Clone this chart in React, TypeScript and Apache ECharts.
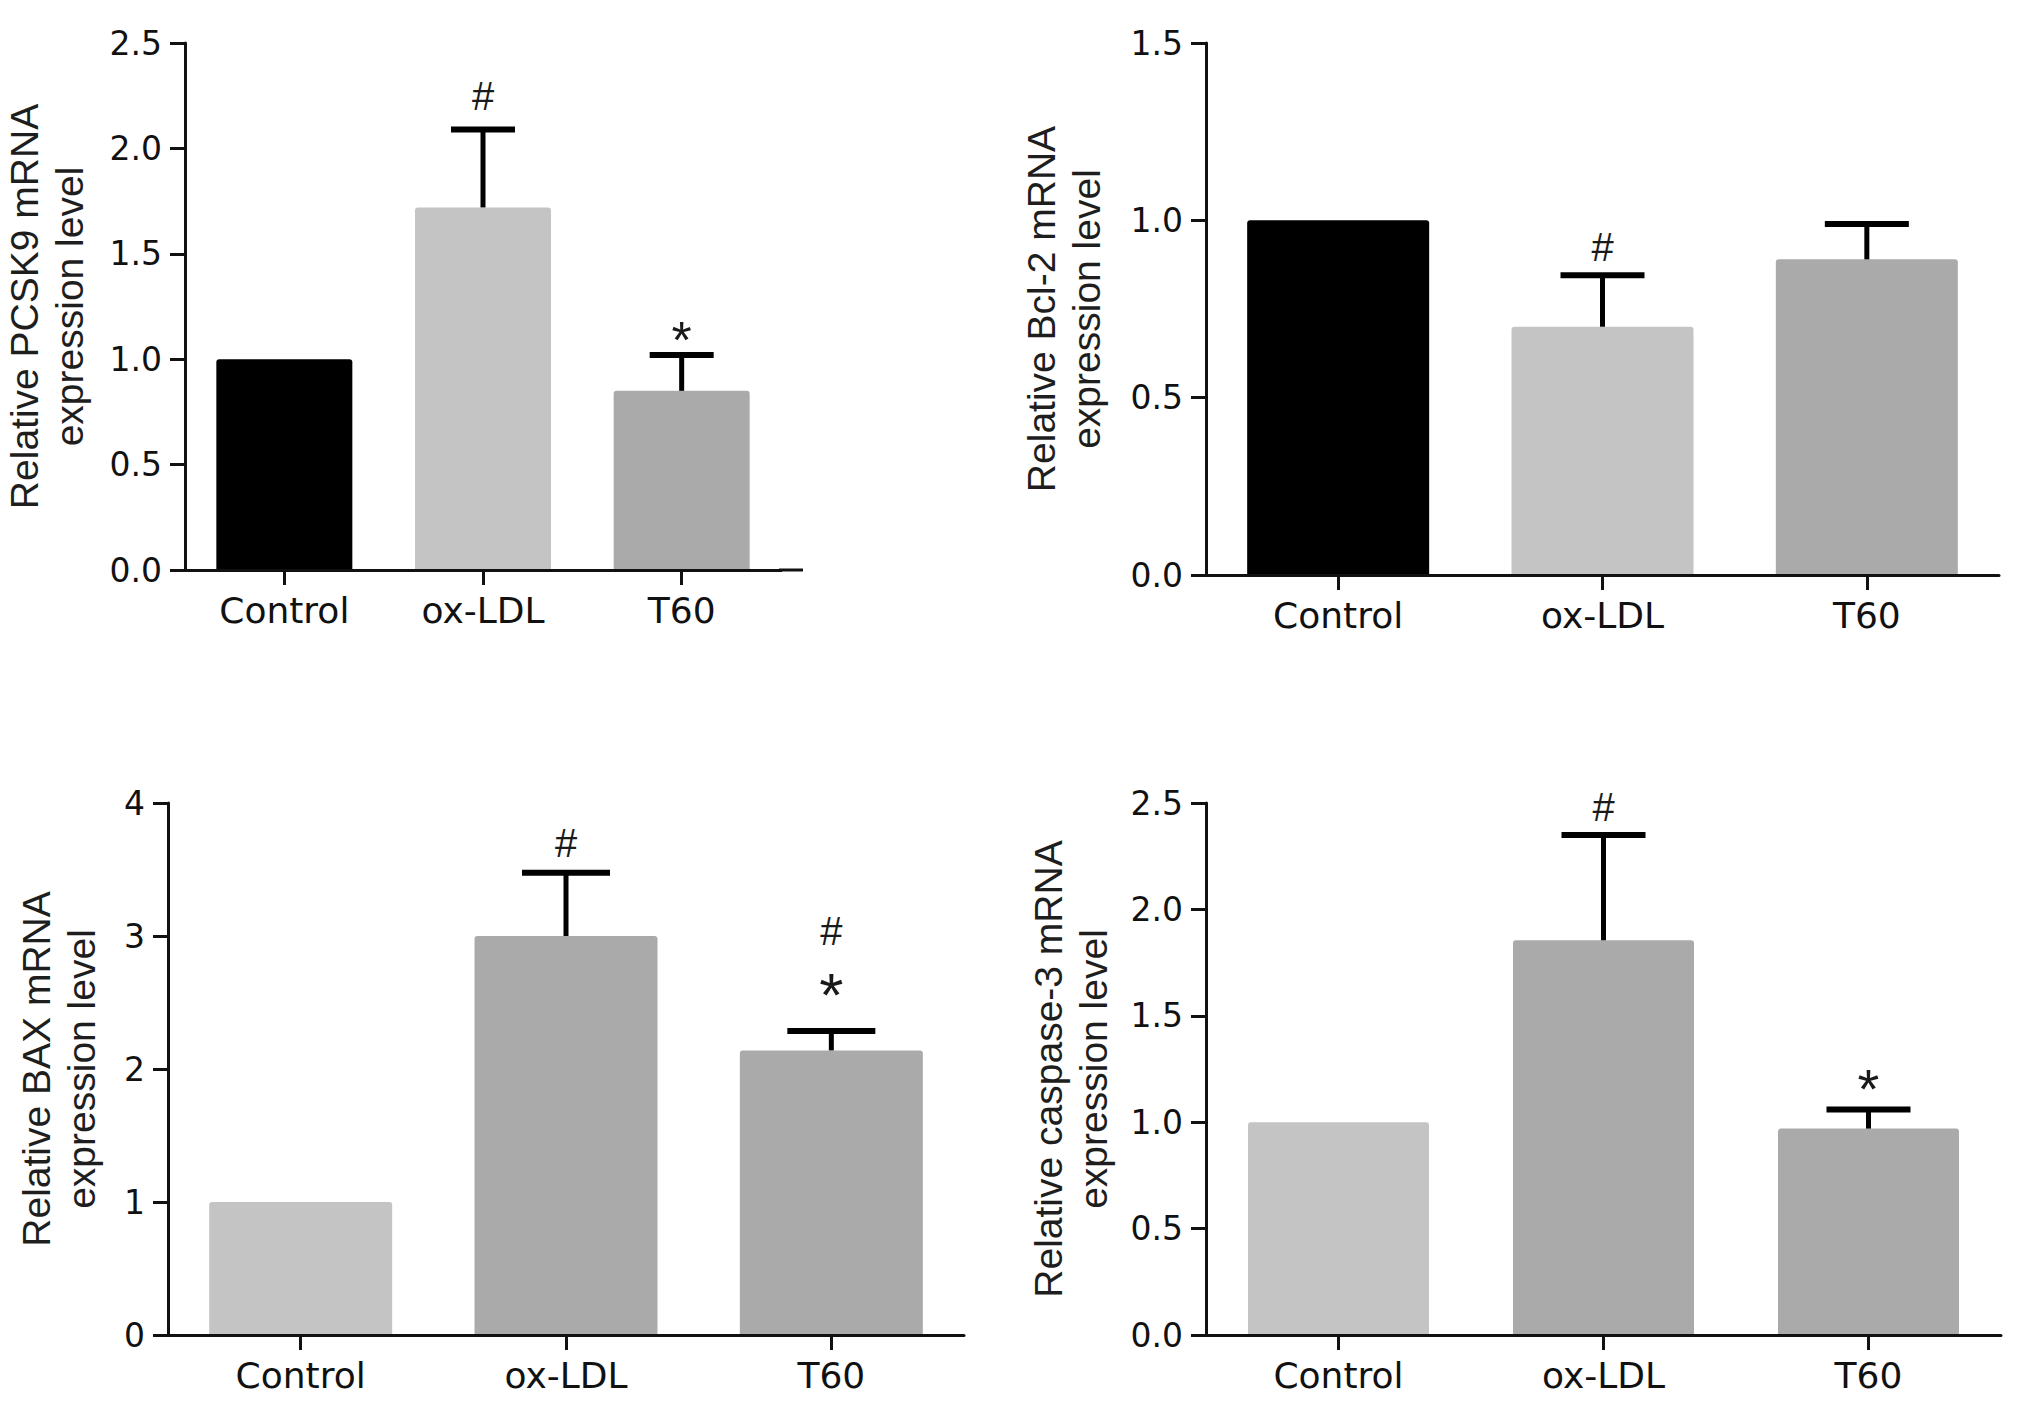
import React, { useEffect, useRef } from 'react';
import * as echarts from 'echarts';

// ---------- data ----------
const categories = ['Control', 'ox-LDL', 'T60'];

const pcsk9Means = [1.0, 1.72, 0.85];
const pcsk9Errors = [0, 0.37, 0.17];
const pcsk9MarkCats = [1, 2];
const pcsk9MarkValues = [2.25, 1.14];
const pcsk9MarkTexts = ['#', '*'];

const bcl2Means = [1.0, 0.70, 0.89];
const bcl2Errors = [0, 0.145, 0.10];
const bcl2MarkCats = [1];
const bcl2MarkValues = [0.925];
const bcl2MarkTexts = ['#'];

const baxMeans = [1.0, 3.0, 2.14];
const baxErrors = [0, 0.475, 0.145];
const baxMarkCats = [1, 2, 2];
const baxMarkValues = [3.70, 3.04, 2.65];
const baxMarkTexts = ['#', '#', '*'];

const casp3Means = [1.0, 1.855, 0.97];
const casp3Errors = [0, 0.495, 0.09];
const casp3MarkCats = [1, 2];
const casp3MarkValues = [2.48, 1.21];
const casp3MarkTexts = ['#', '*'];

const yTitles = [
  'Relative PCSK9 mRNA\nexpression level',
  'Relative Bcl-2 mRNA\nexpression level',
  'Relative BAX mRNA\nexpression level',
  'Relative caspase-3 mRNA\nexpression level',
];
const yMins = [0, 0, 0, 0];
const yMaxs = [2.5, 1.5, 4, 2.5];
const yIntervals = [0.5, 0.5, 1, 0.5];
const yDecimals = [1, 1, 0, 1];

// ---------- styles / layout ----------
const BLACK = '#000000';
const LIGHT = '#c4c4c4';
const MID = '#aaaaaa';
const FONT = 'Liberation Sans, Arial, sans-serif';
const LABEL_FONT = 'DejaVu Sans, Liberation Sans, sans-serif';

const panels = [
  { left: 185, top: 43, width: 596, height: 527, barWidth: 136, capHalf: 32, nameGap: 93, colors: [BLACK, LIGHT, MID],
    means: pcsk9Means, errors: pcsk9Errors, markCats: pcsk9MarkCats, markValues: pcsk9MarkValues, markTexts: pcsk9MarkTexts, starSize: 52 },
  { left: 1206, top: 43, width: 793, height: 532, barWidth: 182, capHalf: 42, nameGap: 97, colors: [BLACK, LIGHT, MID],
    means: bcl2Means, errors: bcl2Errors, markCats: bcl2MarkCats, markValues: bcl2MarkValues, markTexts: bcl2MarkTexts, starSize: 52 },
  { left: 168, top: 803, width: 796, height: 532, barWidth: 183, capHalf: 44, nameGap: 64, colors: [LIGHT, MID, MID],
    means: baxMeans, errors: baxErrors, markCats: baxMarkCats, markValues: baxMarkValues, markTexts: baxMarkTexts, starSize: 62 },
  { left: 1206, top: 803, width: 795, height: 532, barWidth: 181, capHalf: 42, nameGap: 90, colors: [LIGHT, MID, MID],
    means: casp3Means, errors: casp3Errors, markCats: casp3MarkCats, markValues: casp3MarkValues, markTexts: casp3MarkTexts, starSize: 56 },
];

function buildOption() {
  const grid: any[] = [];
  const xAxis: any[] = [];
  const yAxis: any[] = [];
  const series: any[] = [];

  panels.forEach((p, i) => {
    grid.push({ left: p.left, top: p.top, width: p.width, height: p.height, containLabel: false });
    xAxis.push({
      type: 'category',
      gridIndex: i,
      data: categories,
      boundaryGap: true,
      axisLine: { show: true, lineStyle: { color: '#111', width: 3 } },
      axisTick: { show: true, alignWithLabel: true, length: 15, lineStyle: { color: '#111', width: 3 } },
      axisLabel: { color: '#111', fontSize: 36, fontFamily: LABEL_FONT, margin: 22 },
      splitLine: { show: false },
      z: 5,
    });
    yAxis.push({
      type: 'value',
      gridIndex: i,
      min: yMins[i],
      max: yMaxs[i],
      interval: yIntervals[i],
      name: yTitles[i],
      nameLocation: 'middle',
      nameRotate: 90,
      nameGap: p.nameGap,
      nameTextStyle: { color: '#1e1e1e', fontSize: 39, fontFamily: FONT, lineHeight: 45 },
      axisLine: { show: true, lineStyle: { color: '#111', width: 3 } },
      axisTick: { show: true, length: 15, lineStyle: { color: '#111', width: 3 } },
      axisLabel: {
        color: '#111', fontSize: 33, fontFamily: LABEL_FONT, margin: 23,
        formatter: (v: number) => v.toFixed(yDecimals[i]),
      },
      splitLine: { show: false },
      z: 5,
    });

    series.push({
      type: 'bar',
      xAxisIndex: i,
      yAxisIndex: i,
      barWidth: p.barWidth,
      data: p.means.map((m, k) => ({ value: m, itemStyle: { color: p.colors[k], borderRadius: [3, 3, 0, 0] } })),
      z: 2,
    });

    const errData = p.means.map((m, k) => [k, m, m + p.errors[k]]);
    series.push({
      type: 'custom',
      xAxisIndex: i,
      yAxisIndex: i,
      data: errData,
      z: 3,
      renderItem: (params: any, api: any) => {
        const c = api.value(0);
        const mean = api.value(1);
        const top = api.value(2);
        if (!(top > mean)) return { type: 'group', children: [] };
        const p0 = api.coord([c, mean]);
        const p1 = api.coord([c, top]);
        return {
          type: 'group',
          children: [
            { type: 'line', shape: { x1: p0[0], y1: p0[1], x2: p1[0], y2: p1[1] }, style: { stroke: '#000', lineWidth: 5 } },
            { type: 'line', shape: { x1: p1[0] - p.capHalf, y1: p1[1], x2: p1[0] + p.capHalf, y2: p1[1] }, style: { stroke: '#000', lineWidth: 6 } },
          ],
        };
      },
    });

    const markData = p.markCats.map((c, k) => [c, p.markValues[k]]);
    series.push({
      type: 'custom',
      xAxisIndex: i,
      yAxisIndex: i,
      data: markData,
      z: 4,
      renderItem: (params: any, api: any) => {
        const pt = api.coord([api.value(0), api.value(1)]);
        const txt = p.markTexts[params.dataIndex];
        const isStar = txt === '*';
        return {
          type: 'text',
          x: pt[0],
          y: pt[1] + (isStar ? p.starSize * 0.2 : 0),
          style: {
            text: txt,
            fontSize: isStar ? p.starSize : 40,
            fontFamily: FONT,
            fill: '#1a1a1a',
            align: 'center',
            verticalAlign: 'middle',
          },
        };
      },
    });
  });

  return {
    animation: false,
    backgroundColor: '#ffffff',
    grid,
    xAxis,
    yAxis,
    series,
    graphic: [
      {
        type: 'line',
        shape: { x1: panels[0].left + panels[0].width - 2, y1: panels[0].top + panels[0].height, x2: 803, y2: panels[0].top + panels[0].height },
        style: { stroke: '#111', lineWidth: 3 },
        z: 10,
      },
    ],
  };
}

export default function App() {
  const ref = useRef<HTMLDivElement>(null);
  useEffect(() => {
    if (!ref.current) return;
    const chart = echarts.init(ref.current, null, { renderer: 'svg' });
    chart.setOption(buildOption() as any);
    return () => chart.dispose();
  }, []);
  return (
    <div
      ref={ref}
      style={{ position: 'absolute', left: 0, top: 0, width: 2031, height: 1415, background: '#fff' }}
    />
  );
}
